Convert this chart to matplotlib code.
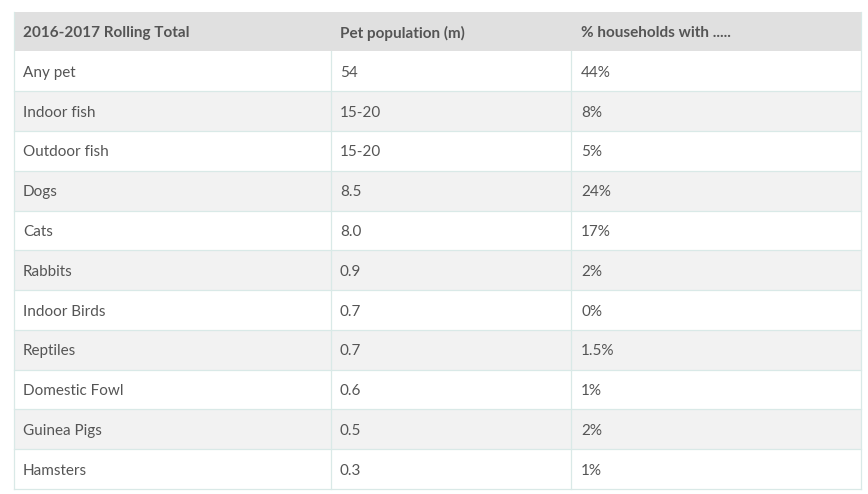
import matplotlib
matplotlib.use("Agg")
import matplotlib.pyplot as plt
from matplotlib.patches import Rectangle

headers = ["2016-2017 Rolling Total", "Pet population (m)", "% households with ....."]
pets = ["Any pet", "Indoor fish", "Outdoor fish", "Dogs", "Cats", "Rabbits",
        "Indoor Birds", "Reptiles", "Domestic Fowl", "Guinea Pigs", "Hamsters"]
population = ["54", "15-20", "15-20", "8.5", "8.0", "0.9", "0.7", "0.7", "0.6", "0.5", "0.3"]
households = ["44%", "8%", "5%", "24%", "17%", "2%", "0%", "1.5%", "1%", "2%", "1%"]

W, H = 868, 494
fig = plt.figure(figsize=(W / 100, H / 100), dpi=100)
ax = fig.add_axes([0, 0, 1, 1])
ax.set_xlim(0, W)
ax.set_ylim(H, 0)
ax.axis("off")

plt.rcParams['font.family'] = ['Lato', 'DejaVu Sans']

left, right = 14, 860.5
top, head_h = 12, 39.5
row_h = (489 - (top + head_h)) / len(pets)
col_x = [left, 330.5, 570.5, right]
text_x = [23, 340, 581]
border = "#d9e9e7"
txt = "#555555"
lw = 0.9

# header
ax.add_patch(Rectangle((left, top), right - left, head_h, facecolor="#e0e0e0", edgecolor="none"))
for j, h in enumerate(headers):
    ax.text(text_x[j], top + head_h / 2 + 1.5, h, ha="left", va="center", fontsize=11,
            fontweight="bold", color=txt)

y0 = top + head_h
rows = list(zip(pets, population, households))
for i, row in enumerate(rows):
    y = y0 + i * row_h
    fc = "#ffffff" if i % 2 == 0 else "#f2f2f2"
    ax.add_patch(Rectangle((left, y), right - left, row_h, facecolor=fc, edgecolor="none"))
    ax.plot([left, right], [y + row_h, y + row_h], color=border, lw=lw)
    for j, val in enumerate(row):
        ax.text(text_x[j], y + row_h / 2 + 1.5, val, ha="left", va="center", fontsize=11, color=txt)

bottom = y0 + len(rows) * row_h
for x in col_x[1:3]:
    ax.plot([x, x], [y0, bottom], color=border, lw=lw)
ax.plot([left, left], [top, bottom], color=border, lw=lw)
ax.plot([right, right], [top, bottom], color=border, lw=lw)

fig.savefig("out.png", dpi=100)
